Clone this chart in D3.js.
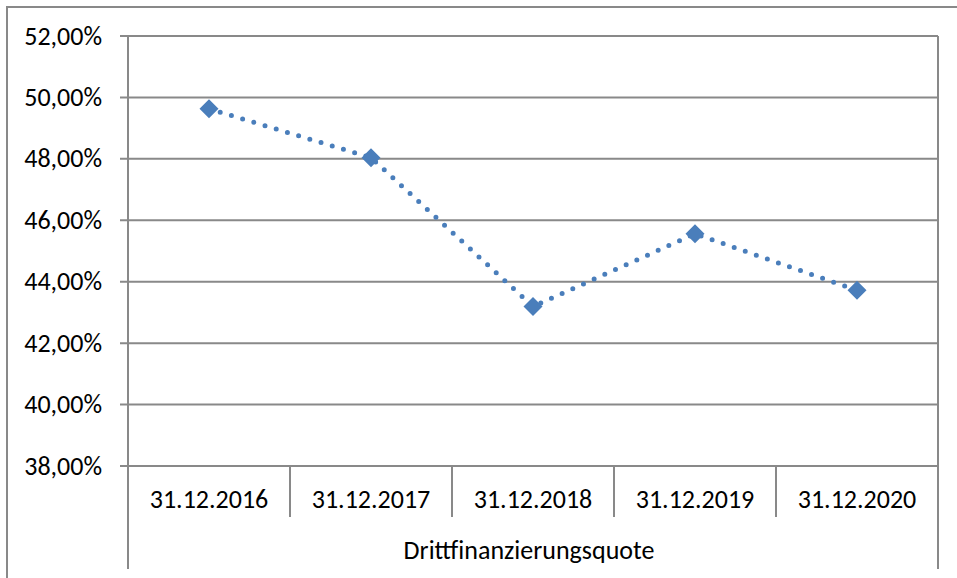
<!DOCTYPE html>
<html>
<head>
<meta charset="utf-8">
<script src="https://cdn.jsdelivr.net/npm/d3@7"></script>
<style>
  html, body { margin: 0; padding: 0; background: #fff; }
  svg text { font-family: Carlito, Calibri, Lato, sans-serif; fill: #000; }
</style>
</head>
<body>
<div id="chart"></div>
<script>
  var categories = ['31.12.2016', '31.12.2017', '31.12.2018', '31.12.2019', '31.12.2020'];
  var values = [49.63, 48.04, 43.19, 45.56, 43.72];
  var yTicks = [38, 40, 42, 44, 46, 48, 50, 52];
  var seriesName = 'Drittfinanzierungsquote';

  var width = 957, height = 578;
  var plotLeft = 128, plotRight = 938, plotTop = 36, plotBottom = 466;
  var gridColor = '#898989';
  var lineColor = '#4a7ebb';
  var fontSize = '26px';

  var de = d3.formatLocale({ decimal: ',', thousands: '.', grouping: [3], currency: ['', ' €'] });
  var pctFormat = function(v) { return de.format('.2f')(v) + '%'; };

  var svg = d3.select('#chart').append('svg')
    .attr('width', width)
    .attr('height', height);

  //outer chart border (right/bottom cropped)
  svg.append('rect')
    .attr('x', 7).attr('y', 7)
    .attr('width', width + 20).attr('height', height + 20)
    .attr('fill', '#fff')
    .attr('stroke', gridColor)
    .attr('stroke-width', 2);

  var x = d3.scaleBand().domain(categories).range([plotLeft, plotRight]);
  var y = d3.scaleLinear().domain([38, 52]).range([plotBottom, plotTop]);

  //horizontal gridlines + ticks
  svg.append('g').selectAll('line')
    .data(yTicks)
    .enter().append('line')
      .attr('x1', plotLeft - 8).attr('x2', plotRight)
      .attr('y1', function(d) { return y(d); })
      .attr('y2', function(d) { return y(d); })
      .attr('stroke', gridColor)
      .attr('stroke-width', 2);

  //y labels
  svg.append('g').selectAll('text')
    .data(yTicks)
    .enter().append('text')
      .attr('x', plotLeft - 26)
      .attr('y', function(d) { return y(d); })
      .attr('dy', '0.33em')
      .attr('text-anchor', 'end')
      .style('font-size', fontSize)
      .text(pctFormat);

  //vertical axis line + right edge, both run down past the series label
  svg.append('g').selectAll('line')
    .data([plotLeft, plotRight])
    .enter().append('line')
      .attr('x1', function(d) { return d; })
      .attr('x2', function(d) { return d; })
      .attr('y1', plotTop).attr('y2', 569)
      .attr('stroke', gridColor)
      .attr('stroke-width', 2);

  //category separators
  svg.append('g').selectAll('line')
    .data(categories.slice(1))
    .enter().append('line')
      .attr('x1', function(d) { return x(d); })
      .attr('x2', function(d) { return x(d); })
      .attr('y1', plotBottom).attr('y2', 517)
      .attr('stroke', gridColor)
      .attr('stroke-width', 2);

  //category labels
  svg.append('g').selectAll('text')
    .data(categories)
    .enter().append('text')
      .attr('x', function(d) { return x(d) + x.bandwidth() / 2; })
      .attr('y', 508)
      .attr('text-anchor', 'middle')
      .style('font-size', fontSize)
      .text(function(d) { return d; });

  //series name
  svg.append('text')
    .attr('x', (plotLeft + plotRight) / 2 - 4)
    .attr('y', 559)
    .attr('text-anchor', 'middle')
    .style('font-size', fontSize)
    .text(seriesName);

  //dotted line
  var line = d3.line()
    .x(function(d, i) { return x(categories[i]) + x.bandwidth() / 2; })
    .y(function(d) { return y(d); });

  svg.append('path')
    .datum(values)
    .attr('d', line)
    .attr('fill', 'none')
    .attr('stroke', lineColor)
    .attr('stroke-width', 5)
    .attr('stroke-linecap', 'round')
    .attr('stroke-dasharray', '0 11.7');

  //diamond markers
  var r = 9.5;
  svg.append('g').selectAll('path')
    .data(values)
    .enter().append('path')
      .attr('transform', function(d, i) {
        return 'translate(' + (x(categories[i]) + x.bandwidth() / 2) + ',' + y(d) + ')';
      })
      .attr('d', 'M0,' + (-r) + 'L' + r + ',0L0,' + r + 'L' + (-r) + ',0Z')
      .attr('fill', lineColor);
</script>
</body>
</html>
